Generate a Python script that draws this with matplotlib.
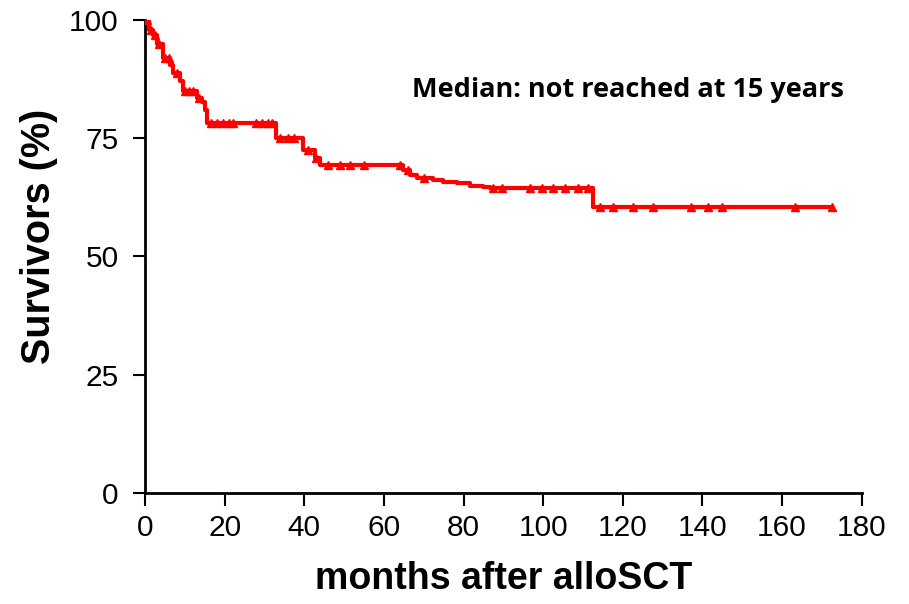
import numpy as np
import matplotlib
matplotlib.use("Agg")
import matplotlib.pyplot as plt

# Kaplan-Meier estimate (months, % surviving after each drop)
step_months = [0, 1, 2, 3, 4.5, 6.3, 7, 8.8, 9.5, 13, 14.3, 15, 15.5,
               33, 39.7, 42.7, 44, 64.8, 66.6, 68.3, 72.4, 74.9, 78.4,
               81.7, 85, 86.7, 112.5, 172.5]
step_surv = [100, 97.9, 96.8, 95, 92, 90.5, 88.8, 87, 85, 83.5, 82.7, 81, 78.2,
             75, 72.5, 70.8, 69.3, 68.3, 67.2, 66.6, 66.2, 65.8, 65.5,
             64.9, 64.7, 64.5, 60.4, 60.4]

# censored patients (months)
censor_months = [0.5, 1.5, 2.5, 3.5, 5, 6, 8, 10, 11, 12, 13.5, 16.5, 18, 19.5,
                 21, 22, 28, 29.5, 31, 32, 34, 36, 37.5, 41, 43, 46, 49, 51.5,
                 55, 64, 66, 70, 87.5, 89.6, 96.7, 99.6, 102.5, 105.5, 108.8,
                 111.3, 114.3, 117.6, 122.6, 127.6, 137.2, 141.5, 145, 163.3,
                 172.5]

x_ticks = [0, 20, 40, 60, 80, 100, 120, 140, 160, 180]
y_ticks = [0, 25, 50, 75, 100]

fig = plt.figure(figsize=(9.09, 6.04), dpi=100)
ax = fig.add_axes([0.1595, 0.1838, 0.7885, 0.7831])

ax.step(step_months, step_surv, where="post", color="#ff0000", lw=3, zorder=3)

# survival value at each censor time
idx = np.searchsorted(step_months, censor_months, side="right") - 1
censor_surv = np.array(step_surv)[idx]
ax.plot(censor_months, censor_surv, ls="none", marker="^", ms=6,
        color="#ff0000", zorder=4)

ax.set_xlim(0, 180)
ax.set_ylim(0, 100)
ax.set_xticks(x_ticks)
ax.set_yticks(y_ticks)
for s in ["top", "right"]:
    ax.spines[s].set_visible(False)
for s in ["left", "bottom"]:
    ax.spines[s].set_linewidth(2)
ax.tick_params(direction="out", length=9, width=1.5, colors="black",
               labelsize=21.5)
ax.tick_params(axis="y", pad=10)
ax.tick_params(axis="x", pad=6)
for lab in ax.get_xticklabels() + ax.get_yticklabels():
    lab.set_family("Liberation Sans")

ax.set_xlabel("months after alloSCT", fontsize=27, fontweight="bold",
              family="Liberation Sans", labelpad=14)
ax.set_ylabel("Survivors (%)", fontsize=28.5, fontweight="bold",
              family="Liberation Sans")
ax.yaxis.set_label_coords(-0.122, 0.543)

fig.text(0.691, 0.851, "Median: not reached at 15 years", ha="center",
         va="center", fontsize=19.5, fontweight="bold", family="Open Sans")

fig.savefig("out.png", dpi=100)
